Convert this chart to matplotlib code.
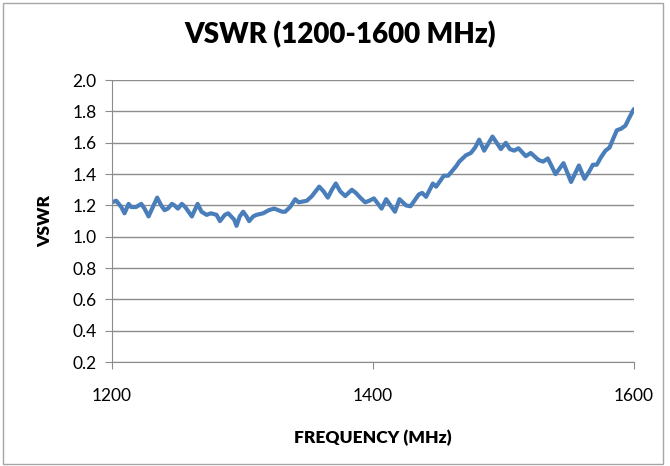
import matplotlib

matplotlib.use("Agg")
import matplotlib.pyplot as plt
from matplotlib.patches import Rectangle

# frequency (MHz) and VSWR
freq = [
    1200, 1203.3, 1207.2, 1209.7, 1212.8, 1214.8, 1218.6, 1222.5, 1225, 1228.1,
    1231.4, 1234.7, 1237.8, 1240.4, 1242.9, 1246, 1248, 1250.6, 1253.6, 1256.2,
    1261.3, 1265.7, 1268.7, 1272.6, 1275.9, 1280.2, 1282.8, 1286.6, 1289.1, 1293.7,
    1295.5, 1298, 1300.6, 1303.2, 1305.2, 1308.3, 1310.8, 1315.9, 1320.3, 1324.4,
    1330.5, 1332.8, 1336.6, 1340.5, 1343.1, 1349.4, 1353.3, 1358.9, 1362.2, 1365.5,
    1368.6, 1371.6, 1375, 1378.8, 1383.9, 1387, 1390.3, 1394.1, 1397.2, 1400.8,
    1406.7, 1410.2, 1416.9, 1420.4, 1425.5, 1428.9, 1435.2, 1437.8, 1440.8, 1446,
    1448.5, 1451.9, 1454.4, 1457.7, 1460.8, 1463.8, 1466.2, 1471.3, 1475.1, 1478.4,
    1481.5, 1485.3, 1491.7, 1498.1, 1501.9, 1505, 1508.3, 1511.6, 1517.2, 1521,
    1527, 1530.5, 1534.1, 1540, 1546.1, 1551.9, 1557.9, 1562.2, 1566, 1568.6,
    1571.6, 1575, 1578.3, 1581.4, 1584.4, 1587, 1590.3, 1593.6, 1596.2, 1600,
]
vswr = [
    1.22, 1.23, 1.19, 1.15, 1.21, 1.19, 1.19, 1.21, 1.18, 1.13,
    1.19, 1.25, 1.20, 1.17, 1.18, 1.21, 1.20, 1.18, 1.21, 1.19,
    1.13, 1.21, 1.16, 1.14, 1.15, 1.14, 1.10, 1.14, 1.15, 1.11,
    1.07, 1.13, 1.16, 1.13, 1.10, 1.13, 1.14, 1.15, 1.17, 1.18,
    1.16, 1.16, 1.19, 1.24, 1.22, 1.23, 1.26, 1.32, 1.29, 1.25,
    1.30, 1.34, 1.29, 1.26, 1.30, 1.28, 1.25, 1.22, 1.23, 1.245,
    1.18, 1.24, 1.16, 1.24, 1.20, 1.195, 1.27, 1.28, 1.255, 1.34,
    1.32, 1.36, 1.39, 1.39, 1.42, 1.45, 1.48, 1.52, 1.535, 1.57,
    1.62, 1.55, 1.64, 1.56, 1.60, 1.56, 1.55, 1.565, 1.515, 1.535,
    1.49, 1.48, 1.50, 1.40, 1.47, 1.35, 1.455, 1.37, 1.42, 1.46,
    1.46, 1.51, 1.55, 1.57, 1.63, 1.68, 1.69, 1.71, 1.755, 1.815,
]
x_ticks = [1200, 1400, 1600]
y_ticks = [0.2, 0.4, 0.6, 0.8, 1.0, 1.2, 1.4, 1.6, 1.8, 2.0]

plt.rcParams["font.family"] = ["Lato", "DejaVu Sans"]

fig = plt.figure(figsize=(6.7, 4.66), dpi=100)
fig.patches.append(Rectangle((0.005, 0.004), 0.985, 0.99, transform=fig.transFigure,
                             fill=False, edgecolor="#a6a6a6", linewidth=1))
ax = fig.add_axes([0.167, 0.223, 0.779, 0.605])

ax.plot(freq, vswr, color="#4a7ebb", linewidth=3, solid_joinstyle="round",
        solid_capstyle="round")

ax.set_xlim(1200, 1600)
ax.set_ylim(0.2, 2.0)
ax.set_xticks(x_ticks)
ax.set_yticks(y_ticks)
ax.set_yticklabels([f"{v:.1f}" for v in y_ticks])
ax.grid(axis="y", color="#8c8c8c", linewidth=1)
ax.set_axisbelow(True)
for side in ["top", "right"]:
    ax.spines[side].set_visible(False)
for side in ["left", "bottom"]:
    ax.spines[side].set_color("#8c8c8c")
ax.tick_params(axis="both", colors="#8c8c8c", labelcolor="black", labelsize=12.5, length=5)
ax.tick_params(axis="x", pad=14)
ax.tick_params(axis="y", pad=6)

fig.suptitle("VSWR (1200-1600 MHz)", x=0.507, y=0.955, fontsize=20, fontweight="heavy")
ax.set_xlabel("FREQUENCY (MHz)", fontsize=12.5, fontweight="heavy", labelpad=18)
ax.set_ylabel("VSWR", fontsize=12.5, fontweight="heavy", labelpad=14)

fig.savefig("out.png", dpi=100)
plt.close(fig)
